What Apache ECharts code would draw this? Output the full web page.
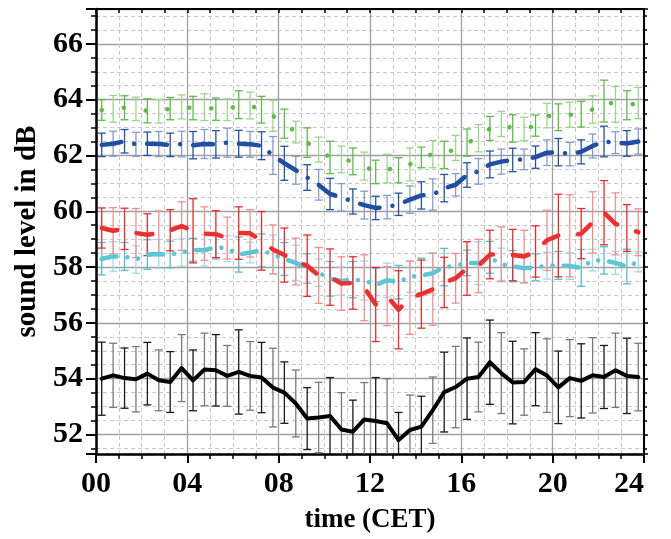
<!DOCTYPE html>
<html>
<head>
<meta charset="utf-8">
<script src="https://cdn.jsdelivr.net/npm/echarts@6/dist/echarts.min.js"></script>
<style>html,body{margin:0;padding:0;background:#fff}#c{width:671px;height:539px}</style>
</head>
<body>
<div id="c"></div>
<script>
const hours = [0.25,0.75,1.25,1.75,2.25,2.75,3.25,3.75,4.25,4.75,5.25,5.75,6.25,6.75,7.25,7.75,
  8.25,8.75,9.25,9.75,10.25,10.75,11.25,11.75,12.25,12.75,13.25,13.75,14.25,14.75,15.25,15.75,
  16.25,16.75,17.25,17.75,18.25,18.75,19.25,19.75,20.25,20.75,21.25,21.75,22.25,22.75,23.25,23.75];
const xTicks = ['00','04','08','12','16','20','24'];

const greenVals = [63.63,63.67,63.71,63.67,63.6,63.58,63.68,63.74,63.7,63.73,63.66,63.64,63.82,63.79,63.64,63.42,
  63.14,62.84,62.46,62.21,61.93,61.86,61.79,61.62,61.41,61.53,61.47,61.68,61.93,62.05,62.02,62.27,
  62.46,62.62,62.97,63.13,62.97,62.95,63.07,63.43,63.37,63.46,63.48,63.65,63.95,63.83,63.8,63.88];
const greenErr = [0.37,0.48,0.43,0.42,0.43,0.42,0.4,0.43,0.42,0.48,0.4,0.39,0.5,0.48,0.48,0.55,
  0.52,0.39,0.53,0.45,0.58,0.48,0.48,0.5,0.42,0.51,0.45,0.59,0.37,0.49,0.49,0.45,
  0.49,0.49,0.43,0.45,0.49,0.42,0.38,0.44,0.48,0.45,0.46,0.49,0.75,0.64,0.52,0.56];

const blueVals = [62.38,62.42,62.51,62.4,62.42,62.41,62.38,62.41,62.37,62.41,62.4,62.46,62.42,62.4,62.35,62.0,
  61.72,61.47,61.21,60.95,60.62,60.5,60.35,60.22,60.12,60.15,60.25,60.42,60.57,60.6,60.83,60.95,
  61.3,61.43,61.68,61.78,61.84,61.86,61.94,62.1,62.12,62.05,62.13,62.34,62.5,62.46,62.43,62.5];
const blueErr = [0.42,0.45,0.42,0.43,0.42,0.45,0.42,0.46,0.49,0.52,0.49,0.52,0.48,0.46,0.5,0.68,
  0.61,0.5,0.46,0.55,0.56,0.49,0.45,0.5,0.42,0.42,0.4,0.49,0.49,0.56,0.49,0.4,
  0.44,0.46,0.48,0.45,0.42,0.37,0.4,0.46,0.49,0.42,0.43,0.43,0.55,0.39,0.46,0.45];

const redVals = [59.4,59.3,59.37,59.22,59.16,59.21,59.32,59.47,59.3,59.2,59.18,59.04,59.22,59.21,58.94,58.63,
  58.43,58.2,58.05,57.7,57.64,57.41,57.43,57.26,56.66,56.96,56.47,56.9,57.03,57.2,57.45,57.6,
  57.95,58.04,58.45,58.46,58.43,58.38,58.56,58.96,59.13,59.12,59.2,59.6,59.95,59.55,59.4,59.25];
const redErr = [0.72,0.83,0.74,0.88,0.75,0.8,0.74,0.87,1.15,0.96,0.84,0.75,0.94,0.85,1.05,0.88,
  0.97,0.84,1.1,1.0,1.01,0.96,0.94,1.18,1.33,1.06,1.4,1.31,1.22,1.29,0.9,0.89,
  0.96,0.96,0.87,0.98,0.92,0.94,0.92,1.08,1.48,1.47,0.9,1.1,1.15,1.11,0.84,0.84];

const cyanVals = [58.3,58.38,58.38,58.27,58.45,58.47,58.45,58.52,58.62,58.6,58.72,58.66,58.45,58.52,58.6,58.45,
  58.29,58.15,57.95,57.8,57.58,57.5,57.55,57.52,57.36,57.53,57.46,57.66,57.7,57.78,58.0,58.05,
  58.15,58.14,58.35,58.1,58.03,57.96,57.99,58.05,58.06,58.04,57.97,58.25,58.24,58.15,58.02,58.19];
const cyanErr = [0.58,0.53,0.5,0.49,0.53,0.52,0.48,0.49,0.41,0.56,0.43,0.46,0.63,0.37,0.59,0.7,
  0.59,0.63,0.53,0.49,0.62,0.5,0.65,0.7,0.6,0.61,0.6,0.56,0.62,0.74,0.67,0.43,
  0.46,0.77,0.57,0.58,0.56,0.53,0.48,0.48,0.5,0.48,0.66,0.39,0.49,0.41,0.62,0.36];

const blackVals = [54.0,54.12,54.02,53.98,54.18,53.94,53.88,54.38,53.94,54.33,54.3,54.1,54.24,54.1,54.04,53.68,
  53.5,53.11,52.57,52.61,52.66,52.18,52.1,52.54,52.48,52.4,51.8,52.16,52.28,52.87,53.52,53.7,
  54.0,54.06,54.59,54.2,53.86,53.88,54.34,54.11,53.69,54.02,53.92,54.12,54.06,54.3,54.1,54.06];
const blackErr = [1.31,1.15,1.08,1.17,1.12,1.09,1.09,1.2,1.09,1.3,1.28,1.09,1.51,1.23,1.26,1.41,
  1.1,1.2,1.11,1.26,1.38,1.32,1.13,1.32,1.56,1.6,0.99,1.25,1.09,1.19,1.43,1.46,
  1.46,1.25,1.51,1.45,1.48,1.19,1.31,1.32,1.3,1.38,1.33,1.35,1.13,1.33,1.35,1.21];

const FONT = 'Liberation Serif';

function errSeries(vals, errs, cA, cB) {
  return {
    type: 'custom', z: 2, silent: true,
    encode: { x: 0, y: 1 },
    data: hours.map((h, i) => [h, vals[i], errs[i]]),
    renderItem: function (params, api) {
      const x = api.value(0), y = api.value(1), e = api.value(2);
      const top = api.coord([x, y + e]);
      const bot = api.coord([x, y - e]);
      const cs = params.coordSys;
      const y0 = cs.y, y1 = cs.y + cs.height;
      const color = params.dataIndex % 2 === 0 ? cA : cB;
      const style = { stroke: color, lineWidth: 1.3, fill: null };
      const ty = Math.max(top[1], y0), by = Math.min(bot[1], y1);
      const ch = [{ type: 'line', shape: { x1: top[0], y1: ty, x2: top[0], y2: by }, style: style }];
      if (top[1] >= y0) ch.push({ type: 'line', shape: { x1: top[0] - 4, y1: top[1], x2: top[0] + 4, y2: top[1] }, style: style });
      if (bot[1] <= y1) ch.push({ type: 'line', shape: { x1: bot[0] - 4, y1: bot[1], x2: bot[0] + 4, y2: bot[1] }, style: style });
      return { type: 'group', children: ch };
    }
  };
}
function lineSeries(vals, color, width, type) {
  return {
    type: 'line', z: 3, silent: true, showSymbol: false, symbol: 'none',
    data: hours.map((h, i) => [h, vals[i]]),
    lineStyle: { color: color, width: width, type: type, cap: 'round', join: 'round' }
  };
}

const labelStyle = { fontFamily: FONT, fontWeight: 'bold', fontSize: 30, color: '#000' };
const chart = echarts.init(document.getElementById('c'), null, { renderer: 'canvas' });
chart.setOption({
  animation: false,
  backgroundColor: '#fff',
  grid: { left: 96, right: 27, top: 9, bottom: 81, containLabel: false },
  xAxis: [{
    type: 'value', min: 0, max: 24, interval: 4, position: 'bottom',
    axisLine: { show: true, onZero: false, lineStyle: { color: '#000', width: 2.5 } },
    axisTick: { show: true, length: 9, lineStyle: { color: '#000', width: 2 } },
    minorTick: { show: true, splitNumber: 4, length: 5, lineStyle: { color: '#000', width: 1.5 } },
    splitLine: { show: true, lineStyle: { color: '#a0a0a0', width: 1.3 } },
    minorSplitLine: { show: true, lineStyle: { color: '#c8c8c8', width: 1, type: [4, 3] } },
    axisLabel: Object.assign({ margin: 15, alignMaxLabel: 'right', formatter: v => xTicks[Math.round(v / 4)] }, labelStyle),
    name: 'time (CET)', nameLocation: 'middle', nameGap: 53,
    nameTextStyle: { fontFamily: FONT, fontWeight: 'bold', fontSize: 27, color: '#000' }
  }, {
    type: 'value', min: 0, max: 24, interval: 4, position: 'top',
    axisLine: { show: true, onZero: false, lineStyle: { color: '#000', width: 2 } },
    axisTick: { show: true, inside: true, length: 4, lineStyle: { color: '#000', width: 1.5 } },
    minorTick: { show: true, splitNumber: 4, length: 4, lineStyle: { color: '#000', width: 1.5 } },
    splitLine: { show: false }, axisLabel: { show: false }
  }],
  yAxis: [{
    type: 'value', min: 51.3, max: 67.25, splitNumber: 8, minInterval: 2, maxInterval: 2,
    axisLine: { show: true, onZero: false, lineStyle: { color: '#000', width: 2.5 } },
    axisTick: { show: true, length: 10, lineStyle: { color: '#000', width: 2 } },
    minorTick: { show: true, splitNumber: 4, length: 5, lineStyle: { color: '#000', width: 1.5 } },
    splitLine: { show: true, lineStyle: { color: '#a0a0a0', width: 1.3 } },
    minorSplitLine: { show: true, lineStyle: { color: '#c8c8c8', width: 1, type: [4, 3] } },
    axisLabel: Object.assign({ margin: 13, showMinLabel: false, showMaxLabel: false,
      formatter: v => String(Math.round(v)) }, labelStyle),
    name: 'sound level in dB', nameLocation: 'middle', nameGap: 46, nameRotate: 90,
    nameTextStyle: { fontFamily: FONT, fontWeight: 'bold', fontSize: 29, color: '#000' }
  }, {
    type: 'value', min: 51.3, max: 67.25, splitNumber: 8, minInterval: 2, maxInterval: 2, position: 'right',
    axisLine: { show: true, onZero: false, lineStyle: { color: '#000', width: 2 } },
    axisTick: { show: true, length: 4, lineStyle: { color: '#000', width: 1.5 } },
    minorTick: { show: true, splitNumber: 4, length: 3, lineStyle: { color: '#000', width: 1.5 } },
    splitLine: { show: false }, axisLabel: { show: false }
  }],
  series: [
    errSeries(cyanVals, cyanErr, '#55bfd0', '#9fdbe5'),
    errSeries(redVals, redErr, '#ee2b2b', '#f59090'),
    errSeries(blackVals, blackErr, '#1a1a1a', '#7a7a7a'),
    errSeries(greenVals, greenErr, '#5cbd45', '#9cd68c'),
    errSeries(blueVals, blueErr, '#2453a6', '#7f9dd0'),
    lineSeries(cyanVals, '#5bc6d6', 4.5, [15, 11, 0.1, 11, 0.1, 11]),
    lineSeries(redVals, '#ef2e2e', 4.5, [16, 20]),
    lineSeries(blackVals, '#000000', 4, 'solid'),
    lineSeries(greenVals, '#5cbd45', 4.5, [0.1, 22]),
    lineSeries(blueVals, '#1f4ea3', 4.5, [20, 13, 0.1, 13])
  ]
});
</script>
</body>
</html>
